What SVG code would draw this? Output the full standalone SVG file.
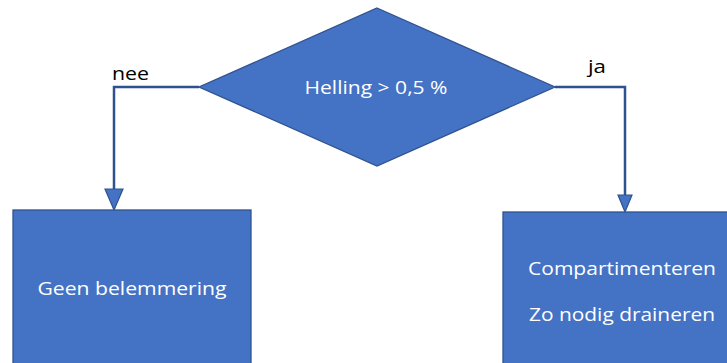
<svg xmlns="http://www.w3.org/2000/svg" width="727" height="363" viewBox="0 0 727 363">
<style>
.shape{fill:#4472C4;stroke:#2F528F;stroke-width:1.3}
.conn{fill:none;stroke:#2F528F;stroke-width:2.5}
.arr{fill:#4472C4;stroke:#2F528F;stroke-width:1.2}
.wt{fill:#FFFFFF;font-family:"Open Sans","Liberation Sans",sans-serif;font-size:18px;text-anchor:middle}
.bt{fill:#000000;font-family:"Open Sans","Liberation Sans",sans-serif;font-size:18px}
</style>
<rect width="727" height="363" fill="#FFFFFF"/>
<g id="connectors">
<polyline class="conn" points="199,87 114,87 114,192"/>
<polygon class="arr" points="105,189 123,189 114,210"/>
<polyline class="conn" points="555,87 625,87 625,197"/>
<polygon class="arr" points="618,195 632,195 625,212"/>
<text class="bt" x="112" y="80" textLength="37" lengthAdjust="spacingAndGlyphs">nee</text>
<text class="bt" x="588" y="73" textLength="18" lengthAdjust="spacingAndGlyphs">ja</text>
</g>
<g id="decision">
<polygon class="shape" points="377,8 555,87 377,166 199,87"/>
<text class="wt" x="376" y="94" textLength="143" lengthAdjust="spacingAndGlyphs">Helling &gt; 0,5 %</text>
</g>
<g id="geen">
<rect class="shape" x="13" y="210" width="238" height="160"/>
<text class="wt" x="132" y="295" textLength="189" lengthAdjust="spacingAndGlyphs">Geen belemmering</text>
</g>
<g id="compartimenteren">
<rect class="shape" x="503" y="212" width="240" height="160"/>
<text class="wt" x="622" y="275" textLength="188" lengthAdjust="spacingAndGlyphs">Compartimenteren</text>
<text class="wt" x="622" y="321" textLength="186" lengthAdjust="spacingAndGlyphs">Zo nodig draineren</text>
</g>
</svg>
